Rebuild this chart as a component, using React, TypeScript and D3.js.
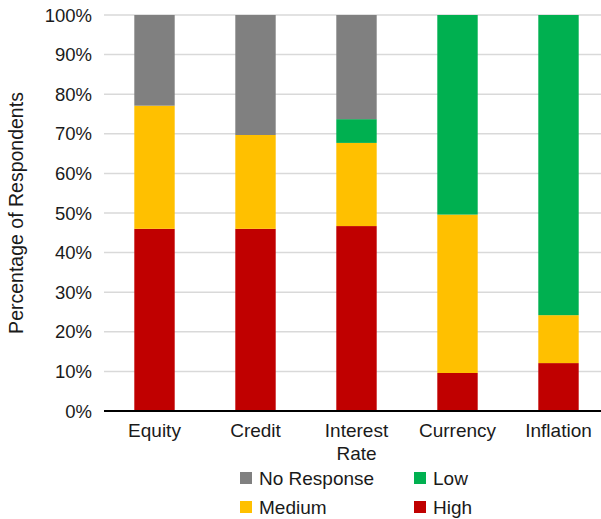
import React from "react";
import * as d3 from "d3";

const categories = ["Equity", "Credit", "Interest Rate", "Currency", "Inflation"];
const high = [46.0, 46.0, 46.7, 9.6, 12.1];
const medium = [31.1, 23.7, 21.0, 40.0, 12.1];
const low = [0, 0, 6.0, 50.4, 75.8];
const noResponse = [22.9, 30.3, 26.3, 0, 0];
const yTicks = [0, 10, 20, 30, 40, 50, 60, 70, 80, 90, 100];

const seriesKeys = ["High", "Medium", "Low", "No Response"];
const colors: Record<string, string> = {
  High: "#C00000",
  Medium: "#FFC000",
  Low: "#00B050",
  "No Response": "#808080",
};

const W = 601;
const H = 519;
const FONT = "'Liberation Sans', Arial, Helvetica, sans-serif";

export default function App() {
  const rows = categories.map((c, i) => ({
    cat: c,
    High: high[i],
    Medium: medium[i],
    Low: low[i],
    "No Response": noResponse[i],
  }));
  const stack = d3.stack<any>().keys(seriesKeys);
  const stacked = stack(rows);

  const x = d3
    .scaleBand<string>()
    .domain(categories)
    .range([104, 609])
    .paddingInner(0.6)
    .paddingOuter(0.3);
  const y = d3.scaleLinear().domain([0, 100]).range([411, 15]);

  const legendItems = [
    { key: "No Response", lx: 240, ly: 478 },
    { key: "Low", lx: 414, ly: 478 },
    { key: "Medium", lx: 240, ly: 507 },
    { key: "High", lx: 414, ly: 507 },
  ];

  return (
    <svg
      width={W}
      height={H}
      style={{ position: "absolute", left: 0, top: 0, background: "#fff" }}
      fontFamily={FONT}
    >
      <rect width={W} height={H} fill="#fff" />
      {yTicks.map((t) => (
        <g key={t}>
          {t > 0 && (
            <line x1={104} x2={W} y1={y(t)} y2={y(t)} stroke="#d9d9d9" strokeWidth={1.5} />
          )}
          <text
            x={92}
            y={y(t)}
            dy="0.36em"
            textAnchor="end"
            fontSize={18.5}
            fill="#1a1a1a"
          >
            {t}%
          </text>
        </g>
      ))}
      {stacked.map((s) => (
        <g key={s.key} fill={colors[s.key]}>
          {s.map((d, i) => (
            <rect
              key={i}
              x={x(categories[i])}
              width={x.bandwidth()}
              y={y(d[1])}
              height={Math.max(0, y(d[0]) - y(d[1]))}
            />
          ))}
        </g>
      ))}
      <line x1={104} x2={W} y1={411} y2={411} stroke="#000" strokeWidth={2} />
      {categories.map((c) => {
        const cx = (x(c) as number) + x.bandwidth() / 2;
        const parts = c === "Interest Rate" ? ["Interest", "Rate"] : [c];
        return (
          <text key={c} x={cx} y={437} textAnchor="middle" fontSize={19} fill="#1a1a1a">
            {parts.map((p, j) => (
              <tspan key={j} x={cx} dy={j === 0 ? 0 : 23}>
                {p}
              </tspan>
            ))}
          </text>
        );
      })}
      <text
        transform={`translate(23,${(y(0) + y(100)) / 2}) rotate(-90)`}
        textAnchor="middle"
        fontSize={19.5}
        fill="#1a1a1a"
      >
        Percentage of Respondents
      </text>
      {legendItems.map((l) => (
        <g key={l.key}>
          <rect x={l.lx} y={l.ly - 6} width={12} height={12} fill={colors[l.key]} />
          <text x={l.lx + 19} y={l.ly} dy="0.36em" fontSize={19} fill="#1a1a1a">
            {l.key}
          </text>
        </g>
      ))}
    </svg>
  );
}
